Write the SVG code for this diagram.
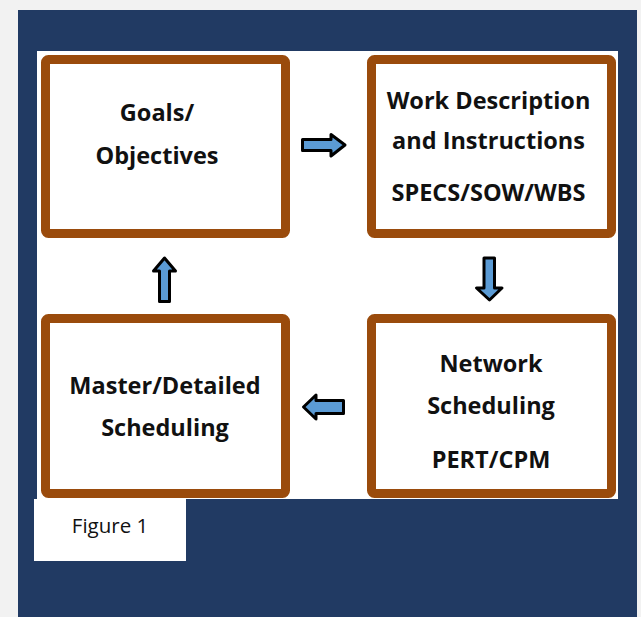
<svg xmlns="http://www.w3.org/2000/svg" width="641" height="617" viewBox="0 0 641 617">
  <style>
    .box { fill: #ffffff; stroke: #9a4b0c; stroke-width: 9; }
    .lbl { font-family: "Open Sans", "Noto Sans", sans-serif; font-weight: bold; font-size: 23.5px; fill: #111111; text-anchor: middle; }
    .arrow { fill: #5b9bd5; stroke: #000000; stroke-width: 3; stroke-linejoin: round; }
    .cap { font-family: "Open Sans", "Noto Sans", sans-serif; font-size: 20.5px; fill: #111111; text-anchor: middle; }
  </style>
  <rect x="0" y="0" width="641" height="617" fill="#f2f2f2"/>
  <rect x="18" y="10" width="619" height="607" fill="#213a63"/>
  <rect x="37" y="51" width="581" height="448" fill="#ffffff"/>
  <g id="figure-label">
    <rect x="34" y="499" width="152" height="62" fill="#ffffff"/>
    <text class="cap" x="110" y="533">Figure 1</text>
  </g>
  <g id="goals">
    <rect class="box" x="45.5" y="59.5" width="240" height="174" rx="3"/>
    <text class="lbl" x="157" y="121">Goals/</text>
    <text class="lbl" x="157" y="164">Objectives</text>
  </g>
  <g id="work">
    <rect class="box" x="371.5" y="59.5" width="240" height="174" rx="3"/>
    <text class="lbl" x="488.5" y="109">Work Description</text>
    <text class="lbl" x="488.5" y="149">and Instructions</text>
    <text class="lbl" x="488.5" y="201">SPECS/SOW/WBS</text>
  </g>
  <g id="master">
    <rect class="box" x="45.5" y="318.5" width="240" height="175" rx="3"/>
    <text class="lbl" x="165" y="394">Master/Detailed</text>
    <text class="lbl" x="165" y="436">Scheduling</text>
  </g>
  <g id="network">
    <rect class="box" x="371.5" y="318.5" width="240" height="175" rx="3"/>
    <text class="lbl" x="491" y="372">Network</text>
    <text class="lbl" x="491" y="414">Scheduling</text>
    <text class="lbl" x="491" y="468">PERT/CPM</text>
  </g>
  <g id="connectors">
    <path class="arrow" d="M302.5,139.5 H331 V134.5 L345,145 L331,156 V150.5 H302.5 Z"/>
    <path class="arrow" d="M484,258 H494.5 V288 H502 L489.5,300 L476.5,288 H484 Z"/>
    <path class="arrow" d="M303.5,407 L316,395 V400.5 H343.5 V413.5 H316 V419 Z"/>
    <path class="arrow" d="M164.5,258 L175.5,271 H169.5 V301.5 H159.5 V271 H153.5 Z"/>
  </g>
</svg>
